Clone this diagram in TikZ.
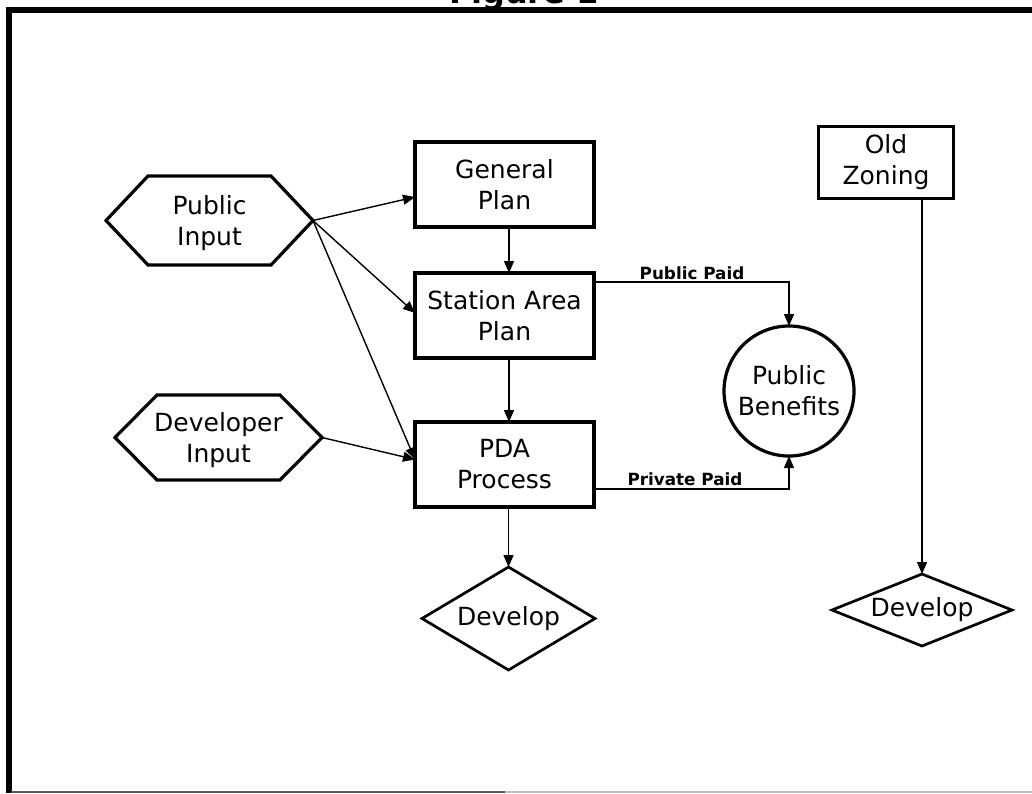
\documentclass[tikz,border=0pt]{standalone}
\usepackage{fontspec}
\setmainfont{DejaVu Sans}
\usetikzlibrary{arrows.meta,shapes.geometric}

\begin{document}
\begin{tikzpicture}[x=1pt,y=-1pt,
  every node/.style={font=\fontsize{25}{31}\selectfont, align=center,
    inner sep=0pt, outer sep=0pt},
  box/.style={draw, line width=3.2pt, minimum width=179pt, minimum height=85pt},
  hexnode/.style={text depth=0pt},
  hexline/.style={line width=3.2pt, line join=miter},
  decision/.style={draw, diamond, line width=2.7pt},
  link/.style={line width=1.4pt, -{Triangle[length=12pt,width=10pt]}},
  paidlabel/.style={font=\bfseries\fontsize{16.8}{20}\selectfont, anchor=base}
]
\useasboundingbox (0,0) rectangle (1032,793);

% page frame
\draw[line width=6.5pt] (6,10) -- (1032,10);
\draw[line width=5.5pt] (8.8,7) -- (8.8,793);
\draw[black!65, line width=1.5pt] (11,791.8) -- (505,791.8);
\draw[black!25, line width=1.5pt] (505,791.8) -- (1032,791.8);

% title
\node[font=\bfseries\fontsize{32}{38}\selectfont, anchor=base] (title) at (524,3) {Figure 1};

% input hexagons
\node[hexnode, minimum width=207pt, minimum height=89pt] (pin) at (209.5,220.5) {Public\\Input};
\node[hexnode, minimum width=207pt, minimum height=85pt] (din) at (218.5,437.5) {Developer\\Input};
\draw[hexline] (pin.west) -- ([xshift=42pt]pin.north west) -- ([xshift=-42pt]pin.north east)
  -- (pin.east) -- ([xshift=-42pt]pin.south east) -- ([xshift=42pt]pin.south west) -- cycle;
\draw[hexline] (din.west) -- ([xshift=42pt]din.north west) -- ([xshift=-42pt]din.north east)
  -- (din.east) -- ([xshift=-42pt]din.south east) -- ([xshift=42pt]din.south west) -- cycle;

% planning boxes
\node[box] (gp) at (504.5,184.5) {General\\Plan};
\node[box] (sap) at (504.5,315.5) {Station Area\\Plan};
\node[box] (pda) at (504.5,464.5) {PDA\\Process};
\node[box, minimum width=135pt, minimum height=72pt] (oz) at (886,162.5) {Old\\Zoning};

% benefits
\node[draw, circle, line width=3.2pt, minimum size=130pt] (pb) at (789,391) {Public\\Benefits};

% outcomes
\node[decision, aspect=1.68, minimum width=173pt, minimum height=103pt] (dv1) at (508.5,618.5) {Develop};
\node[decision, aspect=2.5, minimum width=180pt, minimum height=72pt] (dv2) at (922,610) {Develop};

% inputs into the plans
\draw[link] (pin.east) -- ([yshift=-12.5pt]gp.west);
\draw[link] (pin.east) -- ([yshift=2.5pt]sap.west);
\draw[link] (pin.east) -- ([yshift=5pt]pda.west);
\draw[link] (din.east) -- ([yshift=5pt]pda.west);

% plan sequence
\draw[link] ([xshift=4.5pt]gp.south) -- ([xshift=4.5pt]sap.north);
\draw[link] ([xshift=4.5pt]sap.south) -- ([xshift=4.5pt]pda.north);
\draw[link] (pda.south -| dv1.north) -- (dv1.north);
\draw[link] (oz.south -| dv2.north) -- (dv2.north);

% paid benefits
\draw[link] ([yshift=33.5pt]sap.east) -| (pb.north);
\draw[link] ([yshift=-24.5pt]pda.east) -| (pb.south);
\node[paidlabel] (lpub) at (692,279) {Public Paid};
\node[paidlabel] (lpriv) at (685,485) {Private Paid};
\end{tikzpicture}
\end{document}
